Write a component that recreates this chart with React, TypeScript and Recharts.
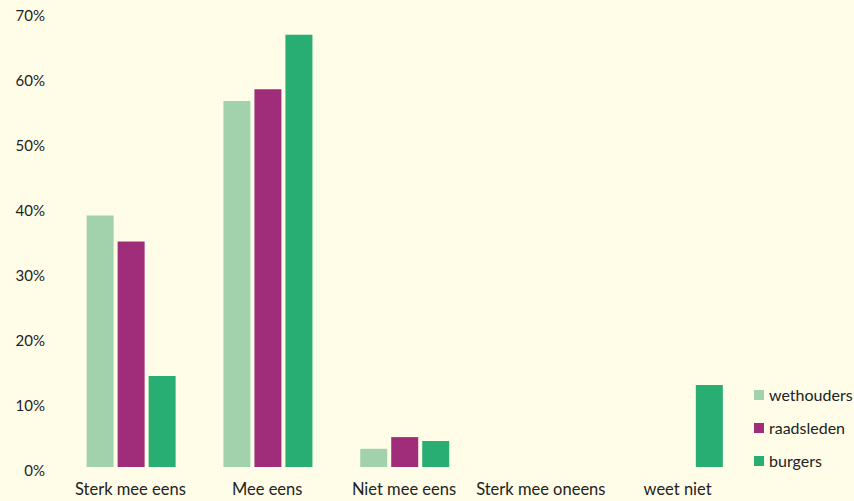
import React from 'react';
import { BarChart, Bar, XAxis, YAxis, Legend } from 'recharts';

const categories = ['Sterk mee eens', 'Mee eens', 'Niet mee eens', 'Sterk mee oneens', 'weet niet'];
const wethouders = [38.7, 56.3, 2.8, 0, 0];
const raadsleden = [34.7, 58.1, 4.6, 0, 0];
const burgers = [14.0, 66.5, 4.0, 0, 12.6];
const yTicks = [0, 10, 20, 30, 40, 50, 60, 70];

const seriesInfo = [
  { key: 'wethouders', color: '#a2d2ac' },
  { key: 'raadsleden', color: '#a02d79' },
  { key: 'burgers', color: '#28ad72' },
];

const data = categories.map((name, i) => ({
  name,
  wethouders: wethouders[i],
  raadsleden: raadsleden[i],
  burgers: burgers[i],
}));

const FONT = 'Lato, "Noto Sans", sans-serif';

const LegendBox = () => (
  <div style={{ fontFamily: FONT, fontSize: 16, color: '#222' }}>
    {seriesInfo.map((s) => (
      <div key={s.key} style={{ display: 'flex', alignItems: 'center', height: 33 }}>
        <span style={{ width: 10, height: 10, background: s.color, marginRight: 5 }} />
        <span>{s.key}</span>
      </div>
    ))}
  </div>
);

export default function App() {
  return (
    <div
      style={{
        position: 'fixed',
        left: 0,
        top: 0,
        width: 854,
        height: 501,
        background: '#fffde8',
        fontFamily: FONT,
      }}
    >
      <BarChart
        width={854}
        height={501}
        data={data}
        margin={{ top: 12, right: 8, left: 6, bottom: 4 }}
        barCategoryGap="18%"
        barGap={4}
      >
        <XAxis
          dataKey="name"
          axisLine={false}
          tickLine={false}
          tickMargin={10}
          interval={0}
          height={30}
          tick={{ fill: '#222', fontSize: 16.5 }}
        />
        <YAxis
          domain={[0, 70]}
          ticks={yTicks}
          tickFormatter={(v) => `${v}%`}
          axisLine={false}
          tickLine={false}
          tickMargin={11}
          width={56}
          tick={{ fill: '#222', fontSize: 15, dy: 4 }}
        />
        <Legend
          layout="vertical"
          align="right"
          verticalAlign="bottom"
          content={<LegendBox />}
          wrapperStyle={{ right: 0, bottom: 24, width: 100 }}
        />
        {seriesInfo.map((s) => (
          <Bar key={s.key} dataKey={s.key} fill={s.color} isAnimationActive={false} />
        ))}
      </BarChart>
    </div>
  );
}
